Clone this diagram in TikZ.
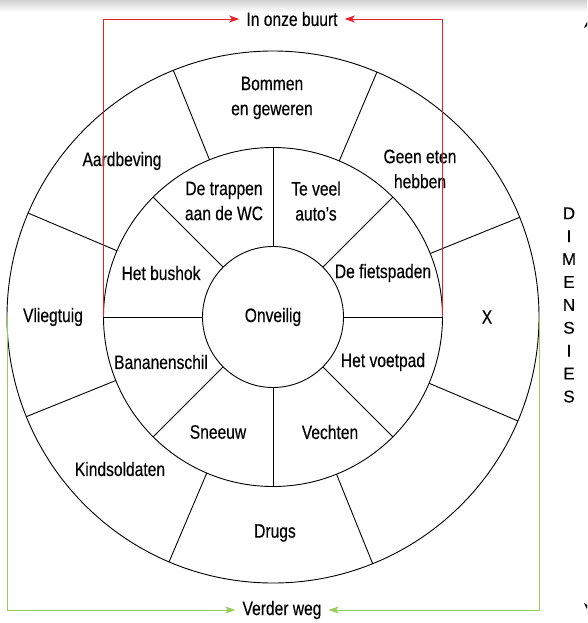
\documentclass[tikz,border=0pt]{standalone}
\usepackage{fontspec}
\setmainfont{Liberation Sans}[FakeStretch=0.8,FakeBold=0.3]
\newfontfamily\plainsans{Liberation Sans}[FakeBold=0.2]
\usetikzlibrary{arrows.meta}
\definecolor{nbred}{RGB}{232,32,42}
\definecolor{nbgreen}{RGB}{150,205,90}
\begin{document}
\begin{tikzpicture}[x=1pt,y=-1pt,
  lbl/.style={font=\fontsize{19.5}{25}\selectfont, align=center, inner sep=0pt},
  ring/.style={circle, draw, line width=0.9pt, inner sep=0pt, outer sep=0pt},
  divider/.style={line width=0.9pt},
  arr/.style={line width=0.9pt, -{Stealth[length=10pt,width=7pt,inset=2.5pt]}, shorten >=3pt},
  sidearr/.style={line width=0.9pt, {Stealth[length=10pt,width=10pt]}-{Stealth[length=10pt,width=10pt]}}
]
\useasboundingbox (0,0) rectangle (587,623);
\clip (0,0) rectangle (587,623);
\fill[white] (0,0) rectangle (587,623);
\shade[top color=black!18, bottom color=white] (0,0) rectangle (587,12);

% rings
\node[ring, minimum size=532] (outer) at (273,317) {};
\node[ring, minimum size=339] (mid) at (273,317) {};
\node[ring, lbl, minimum size=141] (core) at (273,317) {Onveilig};

% dividers
\foreach \a in {0,45,...,315} \draw[divider] (core.\a) -- (mid.\a);
\foreach \a in {22.5,67.5,...,337.5} \draw[divider] (mid.\a) -- (outer.\a);

% outer ring labels
\node[lbl] (bomm) at (272,98) {Bommen\\en geweren};
\node[lbl] (geen) at (420,169) {Geen eten\\hebben};
\node[lbl] (aard) at (122,161) {Aardbeving};
\node[lbl] (vlieg) at (53,317) {Vliegtuig};
\node[lbl] (xx) at (487,317) {X};
\node[lbl] (kind) at (120,469) {Kindsoldaten};
\node[lbl] (drugs) at (275,533) {Drugs};

% inner ring labels
\node[lbl] (trap) at (224,201) {De trappen\\aan de WC};
\node[lbl] (auto) at (316,201) {Te veel\\auto’s};
\node[lbl] (bus) at (161,273) {Het bushok};
\node[lbl] (fiets) at (383,273) {De fietspaden};
\node[lbl] (banaan) at (161,362) {Bananenschil};
\node[lbl] (voet) at (383,362) {Het voetpad};
\node[lbl] (sneeuw) at (218,432) {Sneeuw};
\node[lbl] (vecht) at (330,432) {Vechten};

% dimension labels
\node[lbl, inner sep=4pt] (inb) at (292,19) {In onze buurt};
\node[lbl, inner sep=4pt] (vw) at (282,610) {Verder weg};

\draw[arr, nbred] (mid.west) |- (inb.west);
\draw[arr, nbred] (mid.east) |- (inb.east);
\draw[arr, nbgreen] (outer.west) |- (vw.west);
\draw[arr, nbgreen] (outer.east) |- (vw.east);

\node[font=\plainsans\fontsize{17}{22.9}\selectfont, align=center, inner sep=0pt] (dim) at (569,305) {D\\I\\M\\E\\N\\S\\I\\E\\S};

\coordinate (vt) at (589,18);
\coordinate (vb) at (589,613);
\draw[sidearr] (vt) -- (vb);
\end{tikzpicture}
\end{document}
